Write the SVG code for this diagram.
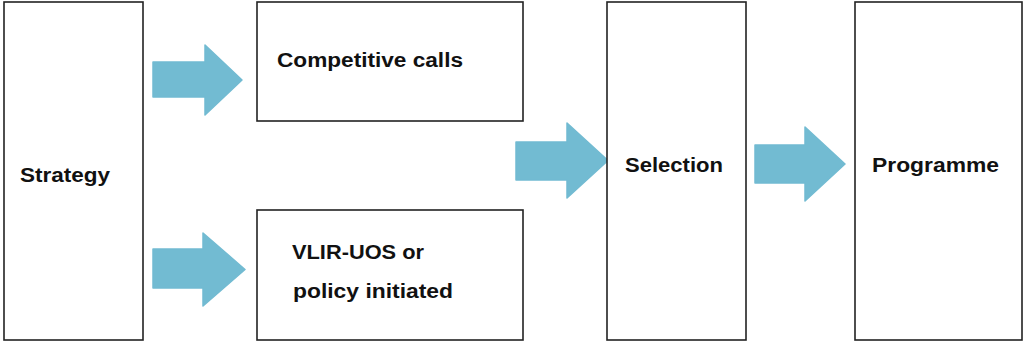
<svg xmlns="http://www.w3.org/2000/svg" width="1024" height="343" viewBox="0 0 1024 343">
<style>
.box{fill:#fff;stroke:#222;stroke-width:1.6}
.lbl{font-family:"Liberation Sans",Arial,sans-serif;font-weight:bold;font-size:20px;fill:#111}
.arr{fill:#72BBD2;stroke:#72BBD2;stroke-width:1.5;stroke-linejoin:round}
</style>
<rect width="1024" height="343" fill="#fff"/>
<g id="connectors">
<polygon class="arr" points="153,62 205,62 205,45 242,80 205,115 205,97 153,97"/>
<polygon class="arr" points="153,249 203,249 203,233 245,269.5 203,306 203,288 153,288"/>
<polygon class="arr" points="516,142 567,142 567,123 608,160.5 567,198 567,180 516,180"/>
<polygon class="arr" points="755,145 805,145 805,127 845,164 805,201 805,183 755,183"/>
</g>
<g id="strategy">
<rect class="box" x="4" y="2" width="139" height="338"/>
<text class="lbl" x="20" y="182" textLength="90" lengthAdjust="spacingAndGlyphs">Strategy</text>
</g>
<g id="competitive">
<rect class="box" x="257" y="2" width="266" height="119"/>
<text class="lbl" x="277" y="67" textLength="186" lengthAdjust="spacingAndGlyphs">Competitive calls</text>
</g>
<g id="vlir">
<rect class="box" x="257" y="210" width="266" height="130"/>
<text class="lbl" x="292" y="259" textLength="132" lengthAdjust="spacingAndGlyphs">VLIR-UOS or</text>
<text class="lbl" x="293" y="298" textLength="160" lengthAdjust="spacingAndGlyphs">policy initiated</text>
</g>
<g id="selection">
<rect class="box" x="607" y="2" width="139" height="338"/>
<text class="lbl" x="625" y="172" textLength="98" lengthAdjust="spacingAndGlyphs">Selection</text>
</g>
<g id="programme">
<rect class="box" x="855" y="2" width="167" height="338"/>
<text class="lbl" x="872" y="172" textLength="127" lengthAdjust="spacingAndGlyphs">Programme</text>
</g>
</svg>
